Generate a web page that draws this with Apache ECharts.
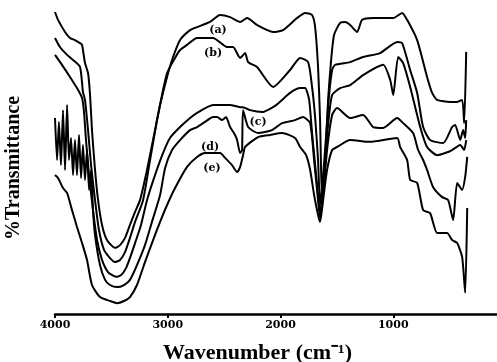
<!DOCTYPE html>
<html>
<head>
<meta charset="utf-8">
<script src="https://cdn.jsdelivr.net/npm/echarts@6/dist/echarts.min.js"></script>
<style>html,body{margin:0;background:#fff}#chart{width:497px;height:362px}</style>
</head>
<body>
<div id="chart"></div>
<script>
// FTIR spectra, [wavenumber cm-1, %T (arbitrary 0-100)]
var curveA = [[4000,100],[3973,97.4],[3911,93.4],[3867,91.4],[3823,90.7],[3778,89.7],[3760,89.1],[3734,83.1],[3707,79.8],[3689,72.5],[3672,60.9],[3645,47.7],[3618,37.7],[3583,29.5],[3539,24.5],[3468,21.9],[3423,22.8],[3379,25.2],[3335,29.5],[3290,33.8],[3246,37.7],[3184,47.7],[3113,60.9],[3068,69.2],[3006,78.5],[2962,84.1],[2891,90.7],[2802,94],[2740,95],[2625,96.7],[2536,99],[2447,98.3],[2358,96.7],[2296,98],[2208,95.7],[2066,93.4],[1977,94],[1853,98],[1782,99.7],[1720,99],[1693,95],[1667,81.8],[1649,64.2],[1640,47.7],[1631,38.7],[1613,46],[1595,57.6],[1578,70.9],[1551,84.1],[1525,92.4],[1471,96.4],[1427,96.7],[1382,95.7],[1320,93.4],[1276,97.4],[1178,98],[1000,98],[921,99.7],[877,97.4],[788,90.7],[700,78.5],[655,73.2],[611,70.9],[496,70.2],[433,70.2],[389,70.9],[371,63.2],[353,86.8]];
var curveB = [[4000,91.4],[3956,88.4],[3893,85.8],[3840,84.1],[3778,81.8],[3752,73.5],[3734,70.9],[3707,60.9],[3680,49.3],[3645,37.7],[3610,27.8],[3565,21.2],[3512,18.5],[3468,17.2],[3423,17.9],[3379,20.5],[3335,25.2],[3290,30.5],[3219,37.7],[3157,51],[3095,64.2],[3051,72.5],[3006,79.8],[2935,84.8],[2891,87.4],[2829,89.1],[2740,91.4],[2598,91.4],[2474,88.4],[2421,88.4],[2358,84.8],[2314,86.4],[2287,83.4],[2208,81.8],[2066,75.2],[1915,80.8],[1826,84.8],[1755,83.4],[1720,75.2],[1693,65.2],[1667,51],[1649,36.1],[1622,46],[1595,59.3],[1569,72.5],[1542,80.8],[1516,82.5],[1382,83.4],[1267,85.1],[1116,86.4],[965,90.1],[921,89.7],[850,80.8],[788,73.2],[735,61.9],[673,57.6],[557,56.6],[478,61.9],[451,62.6],[406,57.6],[380,60.9],[362,58.3],[353,64.2]];
var curveC = [[4000,85.8],[3938,82.5],[3867,78.5],[3805,74.8],[3760,71.5],[3743,66.9],[3725,57.6],[3698,46],[3663,34.4],[3627,24.5],[3583,17.9],[3530,13.9],[3459,12.3],[3414,12.9],[3370,15.2],[3326,19.5],[3281,24.5],[3237,29.5],[3184,37.7],[3113,46],[3042,53.3],[2980,58.3],[2891,61.9],[2802,64.9],[2740,66.6],[2598,69.2],[2447,69.2],[2358,68.5],[2332,68.5],[2270,67.5],[2163,66.9],[2049,68.9],[1915,73.2],[1826,74.8],[1782,74.8],[1746,70.9],[1720,59.9],[1684,46],[1649,33.4],[1613,46],[1578,62.6],[1542,72.5],[1471,74.8],[1382,75.8],[1267,79.1],[1089,82.5],[1027,77.5],[1000,72.5],[956,85.1],[912,83.1],[850,75.2],[761,61.9],[700,55.3],[611,52.6],[540,53.3],[478,54.3],[406,56],[371,54.3],[353,57.6]];
var curveD = [[4000,64.9],[3982,51],[3965,63.6],[3947,49.3],[3929,67.5],[3911,47.7],[3893,69.2],[3876,51],[3858,58.3],[3840,46],[3823,57.6],[3805,46],[3787,59.3],[3769,45],[3752,56],[3734,44.4],[3716,54.3],[3698,41.1],[3680,47.7],[3663,34.4],[3645,26.2],[3601,16.2],[3556,11.3],[3512,9.6],[3450,8.9],[3388,9.6],[3335,11.3],[3273,16.2],[3202,22.8],[3140,30.5],[3068,39.4],[3024,48.3],[2962,54.3],[2891,57.6],[2802,60.9],[2740,61.9],[2669,63.6],[2598,65.2],[2563,65.2],[2518,64.2],[2483,65.2],[2447,61.9],[2403,59.3],[2385,57.6],[2358,53.3],[2341,54.3],[2332,67.5],[2287,61.9],[2199,59.9],[2075,60.9],[1986,63.2],[1871,64.2],[1800,65.2],[1737,63.2],[1702,51],[1667,37.7],[1649,31.8],[1622,39.4],[1587,54.3],[1542,65.9],[1498,68.2],[1382,64.9],[1267,65.9],[1178,61.9],[1089,61.6],[965,64.9],[912,63.2],[824,59.9],[779,54.3],[735,51],[700,47.7],[646,42],[566,38.7],[513,37.7],[469,31.1],[433,43.4],[389,41.1],[362,45.4],[344,52]];
var curveE = [[4000,46],[3973,45],[3929,41.7],[3893,40.1],[3849,34.4],[3805,28.8],[3760,23.5],[3716,17.9],[3672,9.6],[3601,5.6],[3512,4.3],[3450,3.6],[3388,4.3],[3335,5.6],[3273,9.6],[3202,17.2],[3140,23.5],[3068,30.5],[3006,36.1],[2935,41.7],[2829,48.7],[2740,52],[2669,53.3],[2536,53.3],[2492,51.7],[2430,49.3],[2385,47],[2358,48.7],[2332,52.6],[2314,55.3],[2199,58.6],[2092,59.3],[1986,59.9],[1871,58.3],[1826,55.3],[1773,52.6],[1737,47.7],[1702,39.4],[1667,32.8],[1649,30.5],[1622,37.7],[1587,47.7],[1542,54.3],[1498,55.3],[1382,57.6],[1205,57],[965,58.3],[939,55.3],[877,51],[850,44.4],[788,43.4],[735,34.4],[673,33.4],[611,26.8],[522,26.8],[478,24.5],[433,23.5],[389,18.9],[362,7],[344,35.1]];

var curveNames = ['(a)', '(b)', '(c)', '(d)', '(e)'];
var labelAt = [[2554, 94], [2598, 86.4], [2199, 63.6], [2625, 55.3], [2607, 48.3]];

var chart = echarts.init(document.getElementById('chart'));
var curves = [curveA, curveB, curveC, curveD, curveE];

var option = {
  animation: false,
  backgroundColor: '#fff',
  grid: { left: 55, top: 12, right: -9, bottom: 48, containLabel: false, outerBoundsMode: 'none' },
  xAxis: {
    type: 'value',
    inverse: true,
    min: 0,
    max: 4000,
    interval: 1000,
    axisLine: { lineStyle: { color: '#000', width: 2.5 } },
    axisTick: { length: 4, lineStyle: { color: '#000', width: 2 } },
    splitLine: { show: false },
    axisLabel: {
      color: '#000', fontFamily: 'DejaVu Serif', fontWeight: 'bold', fontSize: 11, margin: 6,
      formatter: function (v) { return v === 0 ? '' : String(v) }
    },
    name: 'Wavenumber (cm\u207B\u00B9)',
    nameLocation: 'middle',
    nameGap: 28,
    nameTextStyle: { color: '#000', fontFamily: 'Liberation Serif', fontWeight: 'bold', fontSize: 22, padding: [0, 46, 0, 0] }
  },
  yAxis: {
    type: 'value',
    min: 0,
    max: 100,
    axisLine: { show: true, lineStyle: { color: '#000', width: 2.5 } },
    axisTick: { show: false },
    axisLabel: { show: false },
    splitLine: { show: false },
    name: '%Transmittance',
    nameLocation: 'middle',
    nameGap: 31,
    nameTextStyle: { color: '#000', fontFamily: 'Liberation Serif', fontWeight: 'bold', fontSize: 20, padding: [0, 10, 0, 0] }
  },
  series: curves.map(function (d, i) {
    return {
      type: 'line',
      name: curveNames[i],
      data: d,
      symbol: 'none',
      smooth: 0.2,
      silent: true,
      lineStyle: { color: '#000', width: 2 },
      markPoint: {
        symbol: 'circle',
        symbolSize: 0,
        silent: true,
        label: {
          show: true, position: 'inside', formatter: curveNames[i],
          color: '#000', fontFamily: 'DejaVu Serif', fontWeight: 'bold', fontSize: 11
        },
        data: [{ coord: labelAt[i] }]
      }
    }
  })
};
chart.setOption(option);
</script>
</body>
</html>
